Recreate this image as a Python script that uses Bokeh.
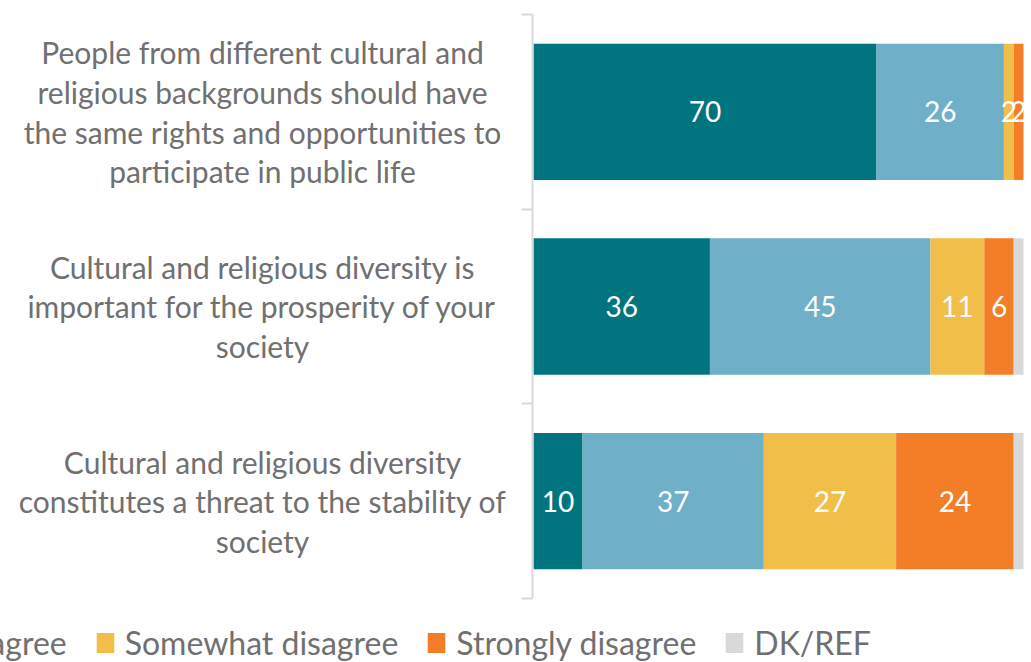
from bokeh.plotting import figure
from bokeh.models import ColumnDataSource, Range1d, FixedTicker, Legend, LegendItem, LinearAxis
from bokeh.core.properties import value
from bokeh.embed import file_html
from bokeh.resources import INLINE

# ---------------- data ----------------
statements = [
    "People from different cultural and\nreligious backgrounds should have\nthe same rights and opportunities to\nparticipate in public life",
    "Cultural and religious diversity is\nimportant for the prosperity of your\nsociety",
    "Cultural and religious diversity\nconstitutes a threat to the stability of\nsociety",
]
series_names = ["Strongly agree", "Somewhat agree", "Somewhat disagree", "Strongly disagree", "DK/REF"]
strongly_agree = [70, 36, 10]
somewhat_agree = [26, 45, 37]
somewhat_disagree = [2, 11, 27]
strongly_disagree = [2, 6, 24]
dk_ref = [0, 2, 2]
colors = ["#00747F", "#6FAFC7", "#F2BE4A", "#F47D28", "#D9D9D9"]

FONT = "Lato"
TEXT_GRAY = "#707070"

series = [strongly_agree, somewhat_agree, somewhat_disagree, strongly_disagree, dk_ref]
keys = ["sa", "swa", "swd", "sd", "dk"]
n = len(statements)
ypos = [n - i - 0.5 for i in range(n)]

data = dict(y=ypos, label=statements)
for k, vals in zip(keys, series):
    data[k] = vals
src = ColumnDataSource(data)

# value labels (centre of each segment, DK/REF unlabeled)
lx, ly, lt = [], [], []
cum = [0] * n
for k, vals in zip(keys, series):
    for i, v in enumerate(vals):
        if k != "dk" and v > 0:
            lx.append(cum[i] + v / 2)
            ly.append(ypos[i])
            lt.append(str(v))
        cum[i] += v
lab_src = ColumnDataSource(dict(x=lx, y=ly, text=lt))

# ---------------- figure ----------------
p = figure(width=1031, height=662, output_backend="svg", toolbar_location=None,
           x_range=Range1d(-108.78, 101.63), y_range=Range1d(-0.3288, 3.0719),
           x_axis_location=None, y_axis_location=None,
           min_border=0)
p.outline_line_color = None
p.xgrid.grid_line_color = None
p.ygrid.grid_line_color = None
p.background_fill_color = "white"
p.border_fill_color = "white"

rs = p.hbar_stack(keys, y="y", height=0.7, color=colors, source=src, line_color=None)

p.text(x="x", y="y", text="text", source=lab_src, text_color="white",
       text_font=value(FONT), text_font_size="28px",
       text_align="center", text_baseline="middle")

p.text(x=-55.3, y="y", text="label", source=src, text_color=TEXT_GRAY,
       text_font=value(FONT), text_font_size="30px", text_line_height=1.1,
       text_align="center", text_baseline="middle")

yax = LinearAxis(ticker=FixedTicker(ticks=list(range(n + 1))), fixed_location=-0.3,
                 bounds=(0, n),
                 axis_line_color="#D9D9D9", axis_line_width=2,
                 major_tick_line_color="#D9D9D9", major_tick_line_width=2,
                 major_tick_out=11, major_tick_in=0,
                 minor_tick_line_color=None,
                 major_label_overrides={i: "" for i in range(n + 1)})
p.add_layout(yax, "left")

items = [LegendItem(label=nm, renderers=[r]) for nm, r in zip(series_names, rs)]
leg = Legend(items=items, orientation="horizontal", location=(-457, 0),
             glyph_width=22, glyph_height=25, label_standoff=9, spacing=27,
             padding=0, margin=0, label_text_font=FONT, label_text_font_size="32px",
             label_text_color=TEXT_GRAY, background_fill_alpha=0, border_line_color=None)
p.add_layout(leg, "center")

open("out.html", "w").write(file_html(p, INLINE))
